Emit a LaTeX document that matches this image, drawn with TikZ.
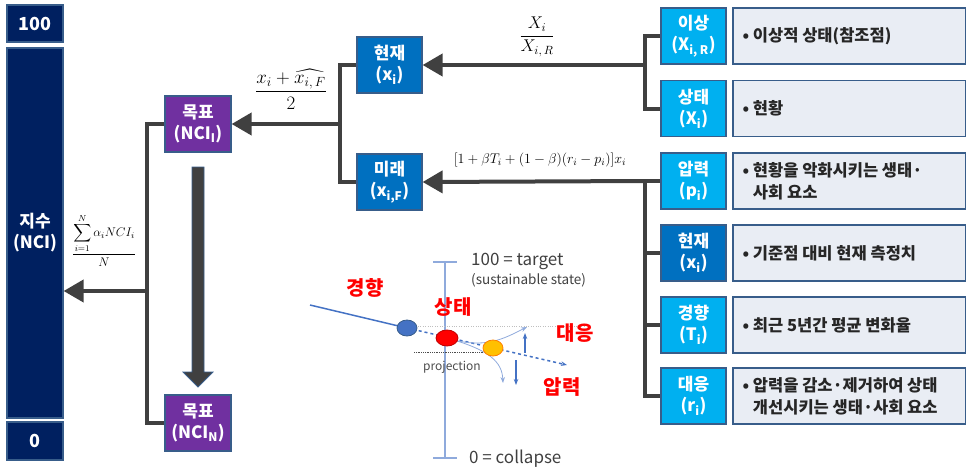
\RequirePackage{fix-cm}
\documentclass[tikz,border=0pt]{standalone}
\usepackage{amsmath, amssymb}
\usepackage{fontspec}
\setmainfont{Noto Sans CJK KR}
\usepackage{tikz}
\usetikzlibrary{positioning, arrows.meta, calc}

\definecolor{navy}{RGB}{0,32,96}
\definecolor{edgeblue}{RGB}{56,93,138}
\definecolor{goalpurple}{RGB}{112,48,160}
\definecolor{midblue}{RGB}{0,112,192}
\definecolor{skyblue}{RGB}{0,176,240}
\definecolor{descfill}{RGB}{233,237,244}
\definecolor{linkgray}{RGB}{64,64,64}
\definecolor{axisblue}{RGB}{143,170,220}
\definecolor{trendblue}{RGB}{68,114,196}
\definecolor{dotorange}{RGB}{255,192,0}

\tikzset{
  box/.style={draw=edgeblue, line width=1.2pt, text=white, align=center,
    inner sep=0pt, font=\fontsize{17}{21}\selectfont\bfseries},
  idx/.style={box, fill=navy, minimum width=56pt},
  goal/.style={box, fill=goalpurple, minimum width=66pt, minimum height=56pt},
  comp/.style={box, fill=midblue, minimum width=65pt, minimum height=56pt},
  ind/.style={box, fill=skyblue, minimum width=65pt, minimum height=56pt},
  desc/.style={draw=edgeblue, line width=1.2pt, fill=descfill,
    minimum width=233pt, minimum height=56pt, inner sep=0pt},
  desctext/.style={anchor=west, align=left, inner sep=0pt, text=black!85,
    font=\fontsize{16.5}{22}\selectfont\bfseries},
  link/.style={draw=linkgray, line width=4pt},
  arrowlink/.style={link, -{Triangle[length=20pt, width=22pt]}},
  redlabel/.style={text=red, font=\fontsize{20}{22}\selectfont\bfseries},
  scenetext/.style={text=black!75, anchor=west, inner sep=0pt}
}

\begin{document}
\begin{tikzpicture}[x=1pt, y=-1pt]
    \useasboundingbox (0,0) rectangle (966,472);
    % Index column
    \node[idx, minimum height=37pt, font=\fontsize{18}{21}\selectfont\bfseries] (idxTop) at (35,23.5) {100};
    \node[idx, minimum height=370pt] (idxBar) at (35,233) {지수\\(NCI)};
    \node[idx, minimum height=38pt, font=\fontsize{18}{21}\selectfont\bfseries] (idxZero) at (35,441) {0};
    % Goal boxes
    \node[goal] (goalI) at (198,124) {목표\\(NCI\textsubscript{I})};
    \node[goal] (goalN) at (198,423) {목표\\(NCI\textsubscript{N})};
    % Current and future
    \node[comp] (cur) at (389.5,65) {현재\\(x\textsubscript{i})};
    \node[comp] (fut) at (389.5,182) {미래\\(x\textsubscript{i,F})};
    % Indicator boxes
    \node[ind] (ideal) at (693.5,36) {이상\\(X\textsubscript{i, R})};
    \node[ind] (state) at (693.5,108.5) {상태\\(X\textsubscript{i})};
    \node[ind] (press) at (693.5,181) {압력\\(p\textsubscript{i})};
    \node[comp] (curR) at (693.5,253) {현재\\(x\textsubscript{i})};
    \node[ind] (trend) at (693.5,325) {경향\\(T\textsubscript{i})};
    \node[ind] (resp) at (693.5,396) {대응\\(r\textsubscript{i})};
    % Descriptions
    \foreach \name/\y in {Ideal/36, State/108.5, Press/181, Cur/253, Trend/325, Resp/396}
        \node[desc] (desc\name) at (849.5,\y) {};
    \node[desctext] (txtIdeal) at ([xshift=10pt]descIdeal.west) {• 이상적 상태(참조점)};
    \node[desctext] (txtState) at ([xshift=10pt]descState.west) {• 현황};
    \node[desctext] (txtPress) at ([xshift=10pt]descPress.west) {• 현황을 악화시키는 생태·\\\phantom{•\ }사회 요소};
    \node[desctext] (txtCur) at ([xshift=10pt]descCur.west) {• 기준점 대비 현재 측정치};
    \node[desctext] (txtTrend) at ([xshift=10pt]descTrend.west) {• 최근 5년간 평균 변화율};
    \node[desctext] (txtResp) at ([xshift=10pt]descResp.west) {• 압력을 감소·제거하여 상태\\\phantom{•\ }개선시키는 생태·사회 요소};
    % Connectors on the right
    \coordinate (jUp) at (645,65);
    \coordinate (jLow) at (645,181);
    \draw[link] (ideal.west) -| (jUp) |- (state.west);
    \draw[link] (press.west) -- (jLow) |- (resp.west);
    \draw[link] (jLow |- curR.west) -- (curR.west);
    \draw[link] (jLow |- trend.west) -- (trend.west);
    \draw[arrowlink] (jUp) -- (cur.east);
    \draw[arrowlink] (jLow) -- (fut.east);
    % Connectors in the middle
    \coordinate (jMid) at (340,124);
    \draw[link] (cur.west) -| (jMid) |- (fut.west);
    \draw[arrowlink] (jMid) -- (goalI.east);
    \coordinate (jLeft) at (147,291);
    \draw[link] (goalI.west) -| (jLeft) |- (goalN.west);
    \draw[arrowlink] (jLeft) -- (jLeft -| idxBar.east);
    % Big down arrow
    \filldraw[fill=linkgray, draw=edgeblue, line width=0.8pt]
        (192,167) -- (204,167) -- (204,372) -- (213,372) -- (198,387)
        -- (183,372) -- (192,372) -- cycle;
    % Formulas
    \node[font=\fontsize{17}{20}\selectfont] (fracRatio) at (537,37) {$\dfrac{X_i}{X_{i,\,R}}$};
    \node[font=\fontsize{19}{22}\selectfont] (fracMean) at (291,89) {$\dfrac{x_i+\widehat{x_{i,\,F}}}{2}$};
    \node[font=\fontsize{14}{17}\selectfont] (projForm) at (540,160) {$[1+\beta T_i+(1-\beta)(r_i-p_i)]x_i$};
    \node[font=\fontsize{12.5}{15}\selectfont] (sumForm) at (104,240) {$\dfrac{\displaystyle\sum_{i=1}^{N}\alpha_i NCI_i}{N}$};
    % Scene: state axis
    \draw[axisblue, line width=1.5pt] (445,262) -- (445,458);
    \draw[axisblue, line width=1.5pt] (433,262) -- (457,262);
    \draw[axisblue, line width=1.5pt] (433,458) -- (457,458);
    \node[scenetext, font=\fontsize{17}{20}\selectfont] (tgt) at (471,261) {100 = target};
    \node[scenetext, font=\fontsize{13.5}{16}\selectfont] (sus) at (471,280) {(sustainable state)};
    \node[scenetext, font=\fontsize{17}{20}\selectfont] (col) at (469,459) {0 = collapse};
    \draw[black!25, dotted] (418,326) -- (585,326);
    \draw[black!70, densely dotted, line width=0.8pt] (414,352) -- (487,352);
    \node[text=black!70, font=\fontsize{12}{14}\selectfont] (proj) at (452,367) {projection};
    % Scene: trajectory
    \coordinate (start) at (310,305);
    \coordinate (blueDot) at (407,328);
    \coordinate (redDot) at (447,338);
    \coordinate (orangeDot) at (493,348);
    \coordinate (trendEnd) at (567,365);
    \draw[trendblue, line width=1.5pt] (start) -- (blueDot);
    \draw[trendblue, line width=1.5pt, dashed, -{Stealth[length=6pt]}] (blueDot) -- (trendEnd);
    \draw[axisblue, line width=0.8pt, -{Stealth[length=6pt]}] (redDot) .. controls (485,350) and (505,338) .. (527,327);
    \draw[axisblue, line width=0.8pt, -{Stealth[length=6pt]}] (redDot) .. controls (490,350) and (502,362) .. (503,383);
    \draw[trendblue, line width=1.5pt, -{Stealth[length=6pt]}] (525,353) -- (525,333);
    \draw[trendblue, line width=1.5pt, -{Stealth[length=6pt]}] (516,360) -- (516,385);
    \filldraw[fill=trendblue, draw=edgeblue, line width=0.8pt] (blueDot) ellipse (10 and 8);
    \filldraw[fill=red, draw=red!75!black, line width=0.8pt] (redDot) ellipse (11 and 8);
    \filldraw[fill=dotorange, draw=orange, line width=0.8pt] (orangeDot) ellipse (10 and 8);
    % Scene labels
    \node[redlabel] (lblTrend) at (365,288) {경향};
    \node[redlabel] (lblState) at (453,307) {상태};
    \node[redlabel] (lblResp) at (575,333) {대응};
    \node[redlabel] (lblPress) at (562,387) {압력};
\end{tikzpicture}
\end{document}
